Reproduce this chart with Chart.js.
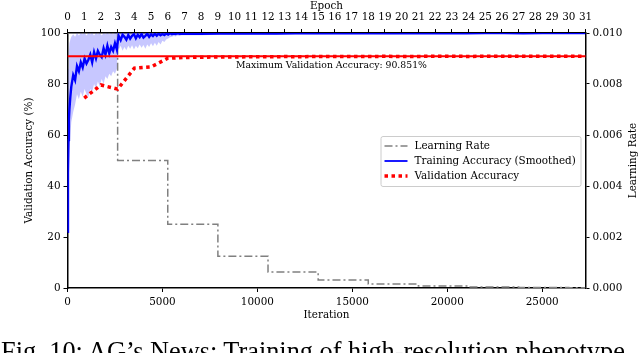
<!DOCTYPE html>
<html>
<head>
<meta charset="utf-8">
<script src="https://cdn.jsdelivr.net/npm/chart.js@4"></script>
<style>
  html, body { margin: 0; padding: 0; background: #fff; overflow: hidden; }
  #wrap { position: relative; width: 640px; height: 353px; }
  #caption { position: absolute; left: 1px; top: 339px; font: 26.3px/26.3px "Liberation Serif", serif; white-space: nowrap; color: #000; }
</style>
</head>
<body>
<div id="wrap">
  <canvas id="trainChart"></canvas>
  <div id="caption">Fig. 10: AG’s News: Training of high-resolution phenotype</div>
</div>
<script>
// --- data ---
const itersPerEpoch = 880;
const epochCount = 31;
const xMax = itersPerEpoch * epochCount;

const trainIter = [0, 25, 50, 75, 100, 150, 200,
  300, 400, 500, 600, 700, 800, 900, 1000, 1100, 1200, 1300, 1400, 1500, 1600, 1700, 1800, 1900, 2000, 2100, 2200, 2300, 2400, 2500, 2600,
  2650,
  2700, 2800, 2900, 3000, 3100, 3200, 3300, 3400, 3500, 3600, 3700, 3800, 3900, 4000, 4100, 4200, 4300, 4400, 4500, 4600,
  4700, 4800, 4900, 5000, 5100, 5200, 5300, 5400, 5500, 5600, 5700, 5800, 5900, 6000,
  7000, 8000, 9000, 10000, 11000, 12000, 13000, 14000, 15000, 16000, 17000, 18000, 19000, 20000, 21000, 22000, 23000, 24000, 25000, 26000, 27000,
  27280];

const trainSmooth = [22, 45, 58, 66, 70, 75, 79,
  83.5, 81.5, 87, 85, 88.5, 86.5, 90, 88, 89.5, 91.5, 88.5, 92.5, 90, 93, 91.5, 90.5, 94, 91.5, 95, 92, 94.5, 93, 96, 93.5,
  97,
  98.8, 97.2, 99.3, 98.5, 97.4, 99.2, 97.8, 98.9, 99.5, 97.9, 99.3, 98.4, 99.6, 98.2, 98.9, 99.7, 98.5, 99.5, 98.8, 99.7,
  98.9, 99.8, 99.1, 99.6, 99.2, 99.8, 99.4, 99.9, 99.5, 99.8, 99.6, 99.9, 99.7, 99.8,
  99.7, 99.8, 99.8, 99.9, 99.8, 99.9, 99.9, 99.9, 99.9, 99.9, 99.9, 100, 99.9, 100, 99.9, 100, 100, 99.9, 100, 100, 100,
  100];

const rawHigh = [30, 72, 86, 93, 96, 97.5, 98.5,
  99.5, 98.5, 100, 99, 100, 99.5, 100, 99, 100, 99.5, 100, 99, 100, 99.5, 100, 99, 100, 99.5, 100, 99.5, 100, 99.5, 100, 100,
  100,
  100, 100, 100, 100, 100, 100, 100, 100, 100, 100, 100, 100, 100, 100, 100, 100, 100, 100, 100, 100,
  100, 100, 100, 100, 100, 100, 100, 100, 100, 100, 100, 100, 100, 100,
  100, 100, 100, 100, 100, 100, 100, 100, 100, 100, 100, 100, 100, 100, 100, 100, 100, 100, 100, 100, 100,
  100];

const rawLow = [20, 28, 38, 47, 54, 60, 65,
  69, 72, 76, 74, 77, 75, 78, 76, 75, 78, 77, 80, 78, 81, 79, 82, 80, 83, 82, 84, 83, 85, 84, 86,
  95,
  93.5, 95, 93, 94.5, 93.2, 95, 93.8, 95.2, 93.5, 95, 94, 95.5, 94.2, 95.3, 93.8, 95.5, 94.5, 96, 94.8, 96.2,
  95, 96.5, 95.5, 97, 96.5, 97.5, 97.8, 98.3, 98.5, 98.8, 98.6, 99, 98.8, 99.1,
  99.1, 99.3, 99.2, 99.4, 99.3, 99.5, 99.4, 99.5, 99.5, 99.6, 99.5, 99.6, 99.6, 99.7, 99.6, 99.7, 99.7, 99.7, 99.8, 99.7, 99.8,
  99.8];

const valEpoch = [1, 2, 3, 4, 5, 6, 7, 8, 9, 10, 11, 12, 13, 14, 15, 16, 17, 18, 19, 20, 21, 22, 23, 24, 25, 26, 27, 28, 29, 30, 31];
const valAcc = [74.5, 79.6, 78.0, 86.2, 86.7, 90.1, 90.4, 90.5, 90.6, 90.55, 90.7, 90.65, 90.75, 90.7, 90.8, 90.75, 90.8, 90.8, 90.85, 90.8,
  90.83, 90.84, 90.85, 90.83, 90.84, 90.85, 90.851, 90.84, 90.85, 90.85, 90.85];
const maxValAcc = 90.851;

const lrIter = [0, 2640, 5280, 7920, 10560, 13200, 15840, 18480, 21120, 23760, 26400, 27280];
const lrValue = [0.01, 0.005, 0.0025, 0.00125, 0.000625, 0.0003125, 0.00015625, 0.000078, 0.000039, 0.0000195, 0.0000098, 0.0000098];

const accTicks = [0, 20, 40, 60, 80, 100];
const lrTicks = [0, 0.002, 0.004, 0.006, 0.008, 0.010];
const iterTicks = [0, 5000, 10000, 15000, 20000, 25000];

const annotText = 'Maximum Validation Accuracy: ' + maxValAcc + '%';
const annotIter = 8870, annotAcc = 87.1;

const FONT = '"DejaVu Serif", serif';
const tickFont = { family: FONT, size: 10.4 };

const xy = (xs, ys) => xs.map((v, i) => ({ x: v, y: ys[i] }));

const legendItems = [
  { label: 'Learning Rate', color: 'gray', width: 1.5, dash: [8, 3, 2, 3] },
  { label: 'Training Accuracy (Smoothed)', color: 'blue', width: 1.8, dash: [] },
  { label: 'Validation Accuracy', color: 'red', width: 3.5, dash: [3.5, 3.5] }
];

const overlay = {
  id: 'overlay',
  afterDraw(chart) {
    const { ctx, chartArea: ca, scales: { x, y } } = chart;
    ctx.save();
    // annotation under the max line
    ctx.font = '9.3px ' + FONT;
    ctx.fillStyle = '#000';
    ctx.textBaseline = 'middle';
    ctx.textAlign = 'left';
    ctx.fillText(annotText, x.getPixelForValue(annotIter), y.getPixelForValue(annotAcc));

    // legend box
    const lx = ca.right - 205, ly = 136, lw = 200, lh = 50;
    ctx.fillStyle = 'rgba(255,255,255,0.8)';
    ctx.strokeStyle = '#cccccc';
    ctx.lineWidth = 1;
    ctx.beginPath();
    ctx.roundRect(lx + 0.5, ly + 0.5, lw, lh, 2);
    ctx.fill();
    ctx.stroke();
    ctx.font = '10.4px ' + FONT;
    legendItems.forEach((it, i) => {
      const ry = ly + 10 + i * 15;
      ctx.strokeStyle = it.color;
      ctx.lineWidth = it.width;
      ctx.setLineDash(it.dash);
      ctx.lineCap = 'butt';
      ctx.beginPath();
      ctx.moveTo(lx + 4, ry);
      ctx.lineTo(lx + 27, ry);
      ctx.stroke();
      ctx.setLineDash([]);
      ctx.fillStyle = '#000';
      ctx.fillText(it.label, lx + 34, ry);
    });

    // right axis title, reading bottom to top
    ctx.translate(633, (ca.top + ca.bottom) / 2);
    ctx.rotate(-Math.PI / 2);
    ctx.textAlign = 'center';
    ctx.font = '10.4px ' + FONT;
    ctx.fillText('Learning Rate', 0, 0);
    ctx.restore();
  }
};

const axisCommon = (extra) => Object.assign({
  grid: { drawOnChartArea: false, tickLength: 4, color: '#000', lineWidth: 1 },
  border: { color: '#000', width: 1.5 }
}, extra);

new Chart(document.getElementById('trainChart'), {
  type: 'line',
  data: {
    datasets: [
      { label: 'max', data: xy([0, xMax], [maxValAcc, maxValAcc]), borderColor: 'red', borderWidth: 2, yAxisID: 'y' },
      { label: 'Validation Accuracy', data: xy(valEpoch.map(e => e * itersPerEpoch), valAcc), borderColor: 'red', borderWidth: 3.5, borderDash: [3.5, 3.5], yAxisID: 'y' },
      { label: 'Training Accuracy (Smoothed)', data: xy(trainIter, trainSmooth), borderColor: 'blue', borderWidth: 2.4, yAxisID: 'y' },
      { label: 'raw high', data: xy(trainIter, rawHigh), borderWidth: 0, fill: '+1', backgroundColor: 'rgba(0,0,255,0.22)', yAxisID: 'y' },
      { label: 'raw low', data: xy(trainIter, rawLow), borderWidth: 0, fill: false, yAxisID: 'y' },
      { label: 'Learning Rate', data: xy(lrIter, lrValue), borderColor: 'gray', borderWidth: 1.5, borderDash: [8, 3, 2, 3], stepped: 'before', yAxisID: 'y1' }
    ]
  },
  options: {
    responsive: true,
    maintainAspectRatio: false,
    animation: false,
    layout: { padding: 0 },
    elements: { point: { radius: 0 }, line: { tension: 0 } },
    plugins: { legend: { display: false }, tooltip: { enabled: false } },
    scales: {
      x: axisCommon({
        type: 'linear', position: 'bottom', min: 0, max: xMax,
        afterBuildTicks: s => { s.ticks = iterTicks.map(v => ({ value: v })); },
        ticks: { font: tickFont, color: '#000', padding: 4, maxRotation: 0, callback: v => String(v) },
        title: { display: true, text: 'Iteration', font: tickFont, color: '#000', padding: { top: 0, bottom: 31 } },
        afterFit: s => { s.height = 65; }
      }),
      x2: axisCommon({
        type: 'linear', position: 'top', min: 0, max: epochCount,
        ticks: { stepSize: 1, autoSkip: false, includeBounds: false, font: tickFont, color: '#000', padding: 5, maxRotation: 0 },
        title: { display: true, text: 'Epoch', font: tickFont, color: '#000', padding: { top: 0, bottom: 0 } },
        afterFit: s => { s.height = 33; }
      }),
      y: axisCommon({
        type: 'linear', position: 'left', min: 0, max: 100,
        afterBuildTicks: s => { s.ticks = accTicks.map(v => ({ value: v })); },
        ticks: { font: tickFont, color: '#000', padding: 3 },
        title: { display: true, text: 'Validation Accuracy (%)', font: tickFont, color: '#000', padding: { top: 23, bottom: 0 } },
        afterFit: s => { s.width = 67.5; }
      }),
      y1: axisCommon({
        type: 'linear', position: 'right', min: 0, max: 0.01,
        afterBuildTicks: s => { s.ticks = lrTicks.map(v => ({ value: v })); },
        ticks: { font: tickFont, color: '#000', padding: 3, callback: v => v.toFixed(3) },
        afterFit: s => { s.width = 54.5; }
      })
    }
  },
  plugins: [overlay]
});
</script>
</body>
</html>
